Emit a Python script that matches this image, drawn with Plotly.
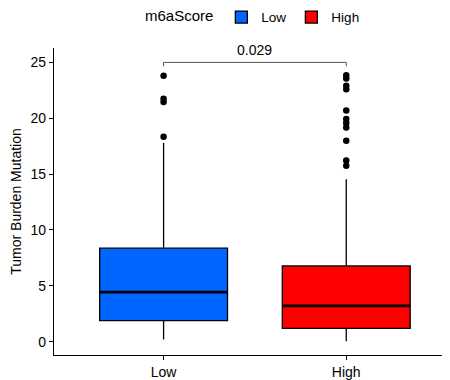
import plotly.graph_objects as go

groups = ["Low", "High"]
colors = ["#0066FF", "#FF0000"]
q1 = [1.88, 1.20]
median = [4.43, 3.20]
q3 = [8.37, 6.78]
lower_whisker = [0.2, 0.05]
upper_whisker = [17.78, 14.55]
outliers_low = [23.8, 21.75, 21.45, 18.35]
outliers_high = [23.85, 23.55, 22.9, 22.6, 20.7, 19.93, 19.57, 19.18, 17.98, 16.22, 15.74]
p_value_label = "0.029"
bracket_y = 25.0

font = "Liberation Sans, Arial, sans-serif"
fig = go.Figure()
for i, g in enumerate(groups):
    fig.add_trace(go.Box(
        x=[g], q1=[q1[i]], median=[median[i]], q3=[q3[i]],
        lowerfence=[lower_whisker[i]], upperfence=[upper_whisker[i]],
        name=g, fillcolor=colors[i], line=dict(color="black", width=1.3),
        whiskerwidth=0, boxpoints=False, showlegend=True, width=0.7,
    ))
for g, pts in zip(groups, [outliers_low, outliers_high]):
    fig.add_trace(go.Scatter(
        x=[g] * len(pts), y=pts, mode="markers",
        marker=dict(color="black", size=6.5), showlegend=False, hoverinfo="y",
    ))

shapes = []
for i, g in enumerate(groups):
    shapes.append(dict(type="line", xref="x", yref="y", x0=i - 0.35, x1=i + 0.35,
                       y0=median[i], y1=median[i], line=dict(color="black", width=2.8)))
shapes.append(dict(type="path", xref="x", yref="y",
                   path=f"M 0,{bracket_y - 0.35} L 0,{bracket_y} L 1,{bracket_y} L 1,{bracket_y - 0.35}",
                   line=dict(color="#555555", width=1)))

# page body has an 8px default margin; figure is sized to fill the 450x380 window
fig.update_layout(
    width=442, height=372,
    margin=dict(l=46, r=0, t=40, b=25, autoexpand=False),
    paper_bgcolor="white", plot_bgcolor="white",
    font=dict(family=font, size=13, color="black"),
    boxmode="overlay",
    shapes=shapes,
    showlegend=True,
    legend=dict(orientation="h", x=0.505, xanchor="center", y=0.975, yanchor="middle",
                yref="container",
                title=dict(text="m6aScore", font=dict(size=15)),
                font=dict(size=13.5), itemwidth=30, traceorder="normal"),
    annotations=[dict(x=0.5, y=bracket_y + 0.25, xref="x", yref="y", text=p_value_label,
                      showarrow=False, yanchor="bottom", font=dict(size=14))],
)
fig.update_xaxes(type="category", categoryorder="array", categoryarray=groups,
                 range=[-0.6, 1.568], showline=True, linecolor="black", linewidth=1.2,
                 ticks="outside", ticklen=4, tickcolor="black", showgrid=False,
                 tickfont=dict(size=14), zeroline=False)
fig.update_yaxes(range=[-1.19, 26.29], tickvals=[0, 5, 10, 15, 20, 25],
                 showline=True, linecolor="black", linewidth=1.2,
                 ticks="outside", ticklen=4, tickcolor="black", showgrid=False,
                 zeroline=False, tickfont=dict(size=14),
                 title=dict(text="Tumor Burden Mutation", font=dict(size=14), standoff=6))
fig.write_html("out.html")
